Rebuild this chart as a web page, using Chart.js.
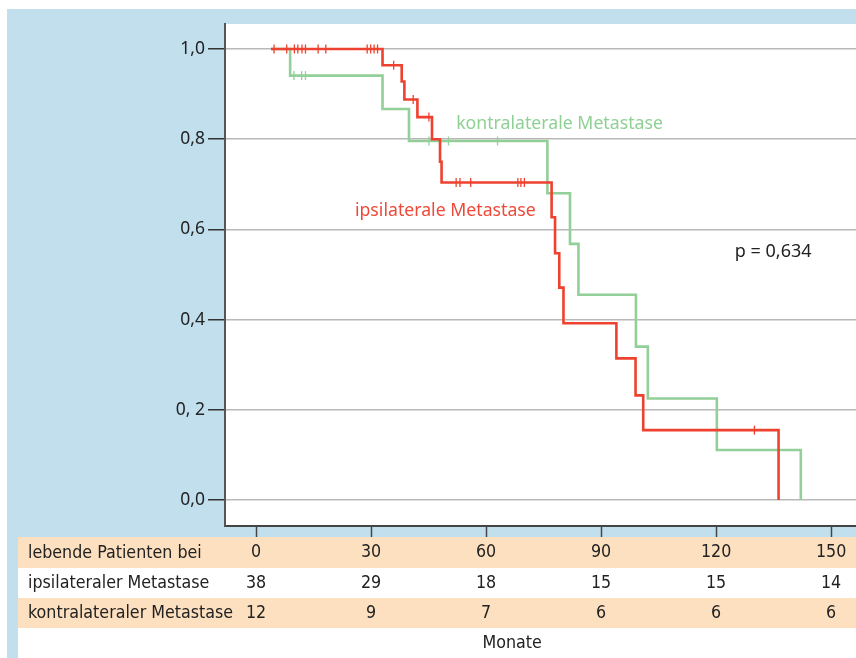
<!DOCTYPE html>
<html><head><meta charset="utf-8">
<script src="https://cdn.jsdelivr.net/npm/chart.js@4/dist/chart.umd.min.js"></script>
<style>html,body{margin:0;padding:0;background:#fff;overflow:hidden}#wrap{width:856px;height:658px;position:relative}canvas{display:block}</style>
</head><body><div id="wrap"><canvas id="c" width="856" height="658"></canvas></div>
<script>
// ---- data (months / survival) ----
const ipsiTimes = [3.9, 33.0, 38.0, 38.7, 42.1, 45.9, 48.0, 48.4, 77.1, 78.0, 79.1, 80.2, 94.0, 99.0, 101.0, 136.3];
const ipsiSurv  = [1.0, 0.964, 0.928, 0.888, 0.849, 0.800, 0.750, 0.704, 0.627, 0.547, 0.471, 0.392, 0.314, 0.232, 0.155, 0.0];
const ipsiCensorTimes = [4.7, 8.0, 10.0, 10.9, 12.0, 12.9, 16.2, 18.2, 29.0, 29.9, 30.8, 31.7, 35.9, 41.0, 45.1, 52.2, 53.2, 56.0, 68.3, 69.1, 70.0, 130.0];
const ipsiCensorSurv  = [1, 1, 1, 1, 1, 1, 1, 1, 1, 1, 1, 1, 0.964, 0.888, 0.849, 0.704, 0.704, 0.704, 0.704, 0.704, 0.704, 0.155];

const kontraTimes = [3.9, 8.9, 33.0, 39.9, 76.0, 81.9, 84.1, 99.1, 102.2, 120.2, 142.1];
const kontraSurv  = [1.0, 0.941, 0.867, 0.796, 0.680, 0.568, 0.455, 0.340, 0.225, 0.111, 0.0];
const kontraCensorTimes = [9.9, 11.9, 12.9, 45.1, 50.2, 63.0];
const kontraCensorSurv  = [0.941, 0.941, 0.941, 0.796, 0.796, 0.796];

const xTicks = [0, 30, 60, 90, 120, 150];
const yTicks = [0, 0.2, 0.4, 0.6, 0.8, 1.0];
const yTickLabels = ["0,0", "0, 2", "0,4", "0,6", "0,8", "1,0"];

const rowLabels = ["lebende Patienten bei", "ipsilateraler Metastase", "kontralateraler Metastase"];
const ipsiAtRisk = [38, 29, 18, 15, 15, 14];
const kontraAtRisk = [12, 9, 7, 6, 6, 6];

const seriesNames = ["ipsilaterale Metastase", "kontralaterale Metastase"];
const pValueText = "p = 0,634";
const xAxisTitle = "Monate";

// ---- style ----
const RED = '#ee412f';
const GREEN = '#93cf98';
const BLUE = '#c2dfee';
const PEACH = '#fde0bf';
const COND = '"Liberation Sans Narrow", "DejaVu Sans Condensed", "Roboto Condensed", "Arial Narrow", sans-serif';
const REG = '"Noto Sans", "Open Sans", sans-serif';

const pts = (xs, ys) => xs.map((x, i) => ({x, y: ys[i]}));

const bgPlugin = {
  id: 'bg',
  beforeDraw(chart) {
    const c = chart.ctx, a = chart.chartArea, W = chart.width, H = chart.height;
    c.save();
    c.fillStyle = '#fff'; c.fillRect(0, 0, W, H);
    c.fillStyle = BLUE;
    c.fillRect(7, 9, W - 7, 528);
    c.fillRect(7, 537, 11, H - 537);
    c.fillStyle = '#fff';
    c.fillRect(a.left, a.top, W - a.left, a.bottom - a.top);
    c.fillStyle = PEACH;
    c.fillRect(18, 537, W - 18, 31);
    c.fillRect(18, 598, W - 18, 30);
    c.restore();
  },
  afterDraw(chart) {
    const c = chart.ctx, xs = chart.scales.x, ys = chart.scales.y;
    c.save();
    // annotations
    c.textBaseline = 'middle';
    c.textAlign = 'left';
    c.font = '17.7px ' + REG;
    c.fillStyle = '#8fd095';
    c.fillText(seriesNames[1], xs.getPixelForValue(52.2), ys.getPixelForValue(0.834));
    c.fillStyle = '#ee4a3a';
    c.fillText(seriesNames[0], xs.getPixelForValue(25.8), ys.getPixelForValue(0.641));
    c.font = '18px ' + REG;
    c.fillStyle = '#222';
    c.fillText(pValueText, xs.getPixelForValue(124.9), ys.getPixelForValue(0.55));
    // table
    c.font = '17.7px ' + COND;
    c.fillStyle = '#222';
    c.textAlign = 'left';
    c.fillText(rowLabels[0], 28, 553);
    c.fillText(rowLabels[1], 28, 583);
    c.fillText(rowLabels[2], 28, 613);
    c.textAlign = 'center';
    xTicks.forEach((t, i) => {
      const px = xs.getPixelForValue(t);
      c.fillText(String(ipsiAtRisk[i]), px, 583);
      c.fillText(String(kontraAtRisk[i]), px, 613);
    });
    c.fillText(xAxisTitle, xs.getPixelForValue(66.8), 643);
    c.restore();
  }
};

new Chart(document.getElementById('c'), {
  type: 'line',
  data: {
    datasets: [
      {data: pts(ipsiTimes, ipsiSurv), stepped: true, borderColor: RED, borderWidth: 2.6, pointRadius: 0, fill: false},
      {data: pts(ipsiCensorTimes, ipsiCensorSurv), showLine: false, pointStyle: 'line', rotation: 90, pointRadius: 4.5, pointBorderWidth: 1.3, pointBorderColor: RED, borderColor: RED},
      {data: pts(kontraTimes, kontraSurv), stepped: true, borderColor: GREEN, borderWidth: 2.6, pointRadius: 0, fill: false},
      {data: pts(kontraCensorTimes, kontraCensorSurv), showLine: false, pointStyle: 'line', rotation: 90, pointRadius: 4.5, pointBorderWidth: 1.3, pointBorderColor: GREEN, borderColor: GREEN}
    ]
  },
  options: {
    responsive: false,
    animation: false,
    layout: {padding: {top: 24, left: 0, right: 0, bottom: 0}, autoPadding: false},
    plugins: {legend: {display: false}, tooltip: {enabled: false}},
    scales: {
      x: {
        type: 'linear', min: -8.09, max: 156.5,
        afterBuildTicks: s => { s.ticks = xTicks.map(v => ({value: v})); },
        afterFit: s => { s.height = 132; s.paddingLeft = 0; s.paddingRight = 0; },
        grid: {drawOnChartArea: false, tickLength: 11, tickColor: '#444', tickWidth: 1.5},
        border: {color: '#444', width: 2},
        ticks: {font: {family: COND, size: 17.7}, color: '#222', padding: 5, maxRotation: 0, callback: v => String(v)}
      },
      y: {
        type: 'linear', min: -0.0576, max: 1.0554,
        afterBuildTicks: s => { s.ticks = yTicks.map(v => ({value: v})); },
        afterFit: s => { s.width = 225; s.paddingTop = 0; s.paddingBottom = 0; },
        grid: {color: '#b8b8b8', lineWidth: 1.5, tickLength: 17, tickColor: '#333', tickWidth: 1.5},
        border: {color: '#555', width: 2},
        ticks: {font: {family: REG, size: 17.5}, color: '#222', padding: 3,
          callback: (v) => { const i = yTicks.findIndex(t => Math.abs(t - v) < 1e-6); return i >= 0 ? yTickLabels[i] : ''; }}
      }
    }
  },
  plugins: [bgPlugin]
});
</script>
</body></html>
